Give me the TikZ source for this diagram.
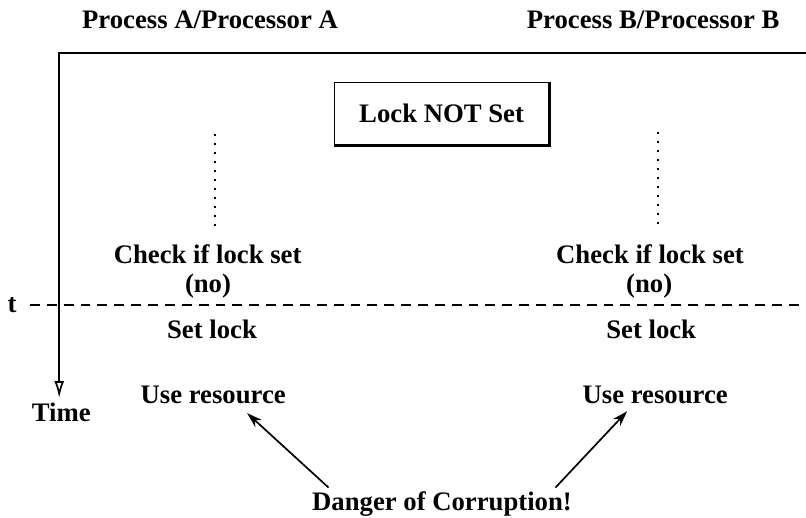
\documentclass[tikz,border=0pt]{standalone}
\usepackage{fontspec}
\setmainfont{Liberation Serif}
\usetikzlibrary{arrows.meta}

\begin{document}
\begin{tikzpicture}[line width=1.2pt, >={Stealth[length=11pt, width=7pt]},
        lbl/.style={anchor=base, inner sep=2pt, font=\fontsize{19}{23}\selectfont\bfseries}]
        \useasboundingbox (0,0) rectangle (20.15,-12.925);

        % time axis
        \coordinate (corner) at (1.48,-1.32);
        \coordinate (topend) at (20.15,-1.32);
        \coordinate (timeend) at (1.48,-9.95);
        \draw[-{Latex[open, length=12pt, width=7pt]}] (topend) -- (corner) -- (timeend);
        \node[lbl] (time) at (1.53,-10.53) {Time};

        % the instant t
        \node[lbl] (t) at (0.3,-7.8) {t};
        \coordinate (tstart) at (0.75,-7.62);
        \coordinate (tend) at (20.15,-7.62);
        \draw[dash pattern=on 7pt off 5pt] (tstart) -- (tend);

        \node[lbl] (headA) at (5.25,-0.70) {Process A/Processor A};
        \node[lbl] (headB) at (16.33,-0.70) {Process B/Processor B};

        \node[lbl, anchor=center, draw, line width=0.8pt, minimum width=5.375cm, minimum height=1.575cm] (lock) at (11.04,-2.84) {Lock NOT Set};
        \draw[line width=1.8pt] (lock.north east) -- (lock.south east) -- (lock.south west);

        % processor A
        \coordinate (dotA1) at (5.38,-3.35);
        \coordinate (dotA2) at (5.38,-5.65);
        \draw[dash pattern=on 1.5pt off 4.9pt] (dotA1) -- (dotA2);
        \node[lbl] (checkA) at (5.19,-6.58) {Check if lock set};
        \node[lbl] (noA) at (5.2,-7.3) {(no)};
        \node[lbl] (setA) at (5.3,-8.45) {Set lock};
        \node[lbl] (useA) at (5.33,-10.08) {Use resource};

        % processor B
        \coordinate (dotB1) at (16.45,-3.3);
        \coordinate (dotB2) at (16.45,-5.65);
        \draw[dash pattern=on 1.5pt off 4.9pt] (dotB1) -- (dotB2);
        \node[lbl] (checkB) at (16.25,-6.58) {Check if lock set};
        \node[lbl] (noB) at (16.23,-7.3) {(no)};
        \node[lbl] (setB) at (16.28,-8.45) {Set lock};
        \node[lbl] (useB) at (16.38,-10.08) {Use resource};

        \node[lbl] (danger) at (11.05,-12.75) {Danger of Corruption!};
        \draw[->] ([xshift=0.5cm]danger.north west) -- ([xshift=0.85cm, yshift=-0.15cm]useA.south);
        \draw[->] ([xshift=-0.5cm]danger.north east) -- ([xshift=-0.7cm, yshift=-0.1cm]useB.south);
    \end{tikzpicture}
\end{document}
